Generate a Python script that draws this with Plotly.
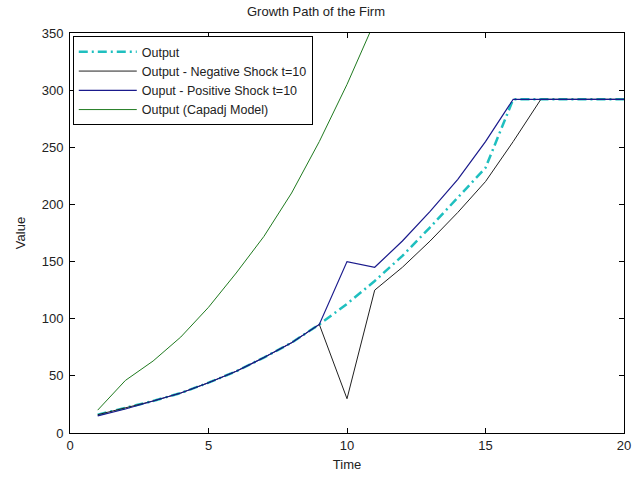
import plotly.graph_objects as go

t = list(range(1, 21))
output = [16, 22, 28, 35, 44, 54, 66, 79, 95, 113, 133, 155, 180, 206, 232, 292, 292, 292, 292, 292]
neg_shock = [16, 22, 28, 35, 44, 54, 66, 79, 95, 30, 125, 145, 168, 193, 220, 255, 292, 292, 292, 292]
pos_shock = [15, 21, 28, 35, 44, 54, 66, 79, 95, 150, 145, 168, 194, 222, 255, 292, 292, 292, 292, 292]
t_capadj = list(range(1, 12))
capadj = [20, 46, 63, 84, 110, 140, 172, 210, 255, 305, 360]

fig = go.Figure()
fig.add_trace(go.Scatter(x=t, y=output, mode="lines", name="Output",
                         line=dict(color="#1fbfbf", width=2.5, dash="9px,4px,2px,4px")))
fig.add_trace(go.Scatter(x=t, y=neg_shock, mode="lines", name="Output - Negative Shock t=10",
                         line=dict(color="#202020", width=1)))
fig.add_trace(go.Scatter(x=t, y=pos_shock, mode="lines", name="Ouput - Positive Shock t=10",
                         line=dict(color="#1a1a8c", width=1.2)))
fig.add_trace(go.Scatter(x=t_capadj, y=capadj, mode="lines", name="Output (Capadj Model)",
                         line=dict(color="#1f7a1f", width=1)))

axis_common = dict(showgrid=False, zeroline=False, showline=True, linecolor="black", linewidth=1,
                   mirror="ticks", ticks="inside", ticklen=5, tickcolor="black", automargin=False,
                   ticklabeloverflow="allow", tickfont=dict(size=13, color="#222222"))
fig.update_layout(
    width=632, height=486,
    margin=dict(l=70, r=8, t=33, b=53, autoexpand=False),
    paper_bgcolor="white", plot_bgcolor="white",
    font=dict(family="Liberation Sans, Arial, sans-serif", size=12, color="black"),
    title=dict(text="Growth Path of the Firm", x=0.5, xanchor="center", y=0.985, yanchor="top",
               font=dict(size=13, color="#222222")),
    xaxis=dict(range=[0, 20], tickvals=[0, 5, 10, 15, 20],
               title=dict(text="Time", standoff=8, font=dict(size=13, color="#222222")), **axis_common),
    yaxis=dict(range=[0, 350], tickvals=[0, 50, 100, 150, 200, 250, 300, 350], ticklabelstandoff=3,
               title=dict(text="Value", standoff=13, font=dict(size=13, color="#222222")), **axis_common),
    legend=dict(x=0.005, y=0.992, xanchor="left", yanchor="top", bgcolor="white",
                bordercolor="black", borderwidth=1, font=dict(size=12.5, color="#222222"),
                tracegroupgap=0, itemwidth=58),
    showlegend=True,
)
fig.write_html("out.html", config={"displayModeBar": False},
               post_script="document.body.style.margin='0';document.body.style.overflow='hidden';")
